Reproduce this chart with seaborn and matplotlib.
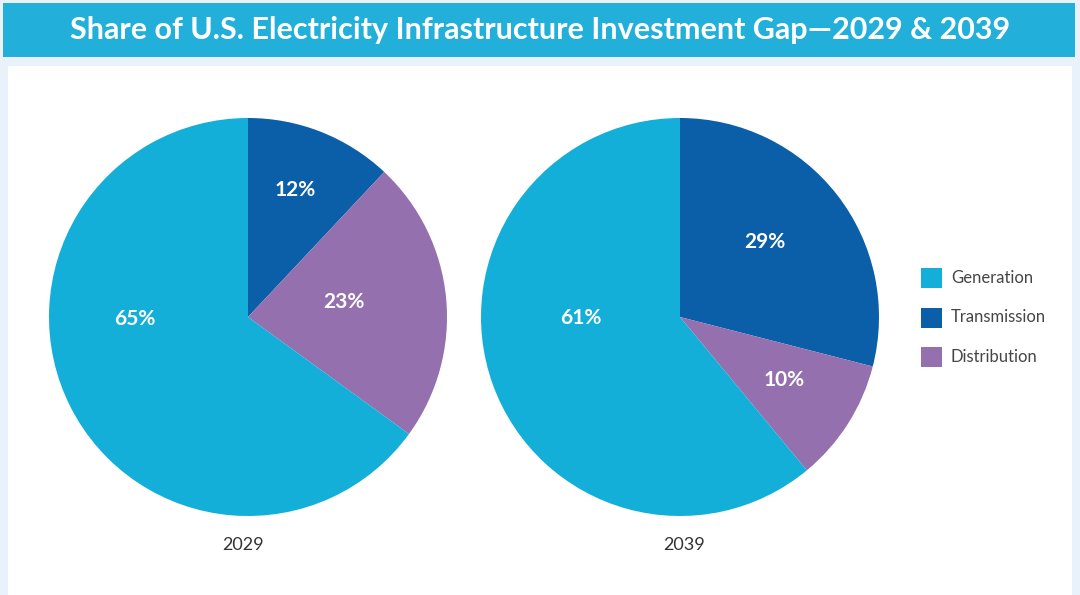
import numpy as np
import matplotlib
matplotlib.use("Agg")
import matplotlib.pyplot as plt
import seaborn as sns
from matplotlib.patches import Rectangle

sns.set_theme(style="white")
plt.rcParams["font.family"] = ["Lato", "DejaVu Sans"]

# Data
categories = ["Transmission", "Distribution", "Generation"]
years = ["2029", "2039"]
share_2029 = [12, 23, 65]
share_2039 = [29, 10, 61]
legend_order = ["Generation", "Transmission", "Distribution"]

colors = {"Generation": "#14afd9", "Transmission": "#0a5fa8", "Distribution": "#9570ae"}
# label placement per slice (fraction of radius, angle shift from wedge middle in degrees)
label_dist = [[0.68, 0.49, 0.57], [0.57, 0.61, 0.50]]
label_shift = [[1.3, 3.5, -26], [3.6, 1.4, -19]]
year_dx = [-5, 4]

W, H = 1080, 595
fig = plt.figure(figsize=(W / 100, H / 100), dpi=100, facecolor="#e9f2fa")

# background panels
bg = fig.add_axes([0, 0, 1, 1])
bg.set_xlim(0, W)
bg.set_ylim(H, 0)
bg.axis("off")
bg.add_patch(Rectangle((8, 66), 1064, 540, facecolor="white", edgecolor="none"))
bg.add_patch(Rectangle((3, 3), 1072, 54, facecolor="#22b0da", edgecolor="none"))
bg.text(540, 30, "Share of U.S. Electricity Infrastructure Investment Gap\u20142029 & 2039",
        color="white", fontsize=22, fontweight="bold", ha="center", va="center")

centers = [(248, 317), (680, 317)]
radius = 199
for i, (vals, yr) in enumerate(zip([share_2029, share_2039], years)):
    cx, cy = centers[i]
    ax = fig.add_axes([(cx - radius) / W, (H - cy - radius) / H, 2 * radius / W, 2 * radius / H])
    wedges, _ = ax.pie(vals, colors=[colors[c] for c in categories], startangle=90,
                       counterclock=False, radius=1.0,
                       wedgeprops=dict(linewidth=0, edgecolor="none", antialiased=True))
    ax.set_xlim(-1, 1)
    ax.set_ylim(-1, 1)
    ax.set_aspect("equal")
    for w, v, d, s in zip(wedges, vals, label_dist[i], label_shift[i]):
        ang = np.deg2rad((w.theta1 + w.theta2) / 2 + s)
        ax.text(d * np.cos(ang), d * np.sin(ang), f"{v}%", color="white", fontsize=15,
                fontweight="bold", ha="center", va="center")
    bg.text(cx + year_dx[i], 545, yr, color="#333333", fontsize=13, ha="center", va="center")

# legend
for j, name in enumerate(legend_order):
    y = 278 + 39.5 * j
    bg.add_patch(Rectangle((921, y - 10), 21, 20, facecolor=colors[name], edgecolor="none"))
    bg.text(951, y, name, color="#454545", fontsize=12, ha="left", va="center")

fig.savefig("out.png", dpi=100, facecolor=fig.get_facecolor())
